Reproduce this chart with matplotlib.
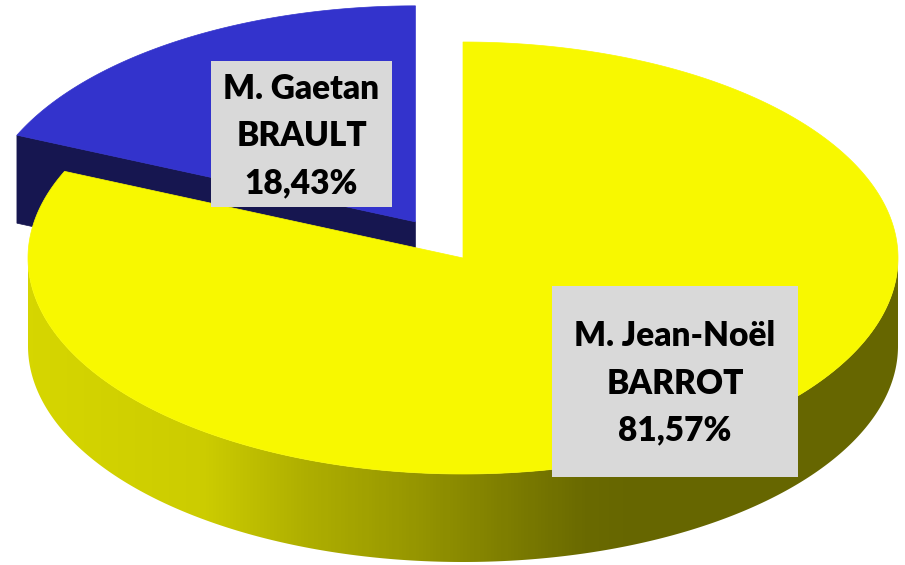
import numpy as np
import matplotlib.pyplot as plt
from matplotlib.patches import Polygon, Rectangle
from matplotlib.colors import LinearSegmentedColormap

# data
candidates = ['M. Jean-Noël\nBARROT', 'M. Gaetan\nBRAULT']
shares = [81.57, 18.43]
explode = [0.0, 0.2]
top_colors = ['#F8F800', '#3333CC']
face_colors = ['#666600', '#161650']
grad_stops = [0, 0.2, 0.31, 0.43, 0.54, 0.64, 0.7, 1.0]
side_grads = [['#D6D600', '#CCCC00', '#B0B000', '#999900', '#808000', '#6A6A00', '#666600', '#666600'],
              ['#3333CC', '#3030B8', '#2A2AA0', '#242488', '#1E1E70', '#181858', '#161650', '#161650']]
label_boxes = [(552, 286, 246, 191), (211, 61, 181, 146)]  # x, y, w, h in pixels

# pie geometry (pixels)
cx, cy = 463, 258
a, b, depth = 435, 216, 88

fig = plt.figure(figsize=(9.05, 5.65), dpi=100)
ax = fig.add_axes([0, 0, 1, 1])
ax.set_xlim(0, 905)
ax.set_ylim(565, 0)
ax.axis('off')


def rim(t, ox, oy, dz=0.0):
    return np.column_stack([ox + a * np.cos(t), oy - b * np.sin(t) + dz])


# slice angles, clockwise from 12 o'clock
edges = np.radians(90 - 360 * np.concatenate([[0], np.cumsum(shares)]) / 100)

xx = np.linspace(0, 1, 256).reshape(1, -1)

# back slice (blue) first, then yellow on top
for i in [1, 0]:
    t0, t1 = edges[i], edges[i + 1]
    mid = (t0 + t1) / 2
    ox = cx + explode[i] * a * np.cos(mid)
    oy = cy - explode[i] * b * np.sin(mid)
    apex = np.array([[ox, oy]])
    down = np.array([0, depth])

    # radial faces
    for te, nrm in [(t0, t0 + np.pi / 2), (t1, t1 - np.pi / 2)]:
        if np.sin(nrm) < -1e-6:
            p = rim(np.array([te]), ox, oy)
            quad = np.vstack([apex, p, p + down, apex + down])
            ax.add_patch(Polygon(quad, closed=True, facecolor=face_colors[i],
                                 edgecolor=face_colors[i], lw=0.5, zorder=2))

    # outer curved side (front half only)
    ts = np.linspace(t0, t1, 1500)
    front = ts[np.sin(ts) <= 0]
    if len(front) > 1:
        top = rim(front, ox, oy)
        bot = rim(front[::-1], ox, oy, depth)
        side = Polygon(np.vstack([top, bot]), closed=True, facecolor='none',
                       edgecolor='none', zorder=2)
        ax.add_patch(side)
        cmap = LinearSegmentedColormap.from_list('side%d' % i, list(zip(grad_stops, side_grads[i])))
        im = ax.imshow(xx, cmap=cmap, aspect='auto', interpolation='bilinear',
                       extent=[ox - a, ox + a, oy + b + depth, oy], zorder=2)
        im.set_clip_path(side)

    # top face
    arc = rim(ts, ox, oy)
    ax.add_patch(Polygon(np.vstack([apex, arc]), closed=True,
                         facecolor=top_colors[i], edgecolor=top_colors[i],
                         lw=0.5, zorder=3))

# data labels
for i in range(len(shares)):
    x, y, w, h = label_boxes[i]
    ax.add_patch(Rectangle((x, y), w, h, facecolor='#D9D9D9', edgecolor='none', zorder=5))
    txt = candidates[i] + '\n' + ('%.2f%%' % shares[i]).replace('.', ',')
    ax.text(x + w / 2, y + h / 2 + 2, txt, ha='center', va='center',
            multialignment='center', fontsize=24, fontweight='heavy',
            family='Lato', color='black', linespacing=1.58, zorder=6)

fig.savefig('out.png', dpi=100)
